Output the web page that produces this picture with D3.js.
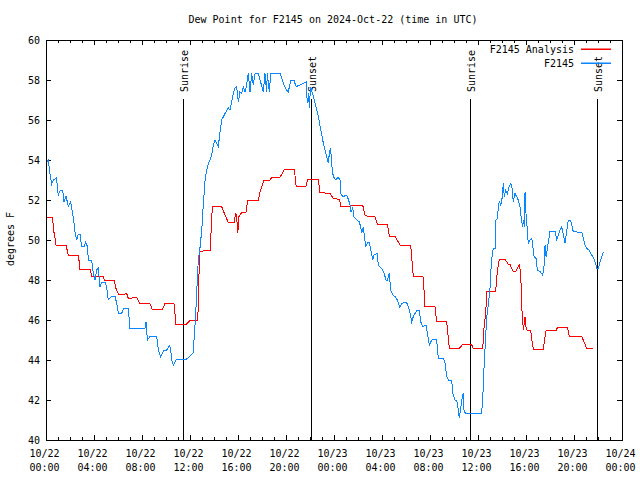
<!DOCTYPE html>
<html>
<head>
<meta charset="utf-8">
<script src="https://cdn.jsdelivr.net/npm/d3@7/dist/d3.min.js"></script>
<style>
  html, body { margin: 0; padding: 0; background: #fff; }
  svg { display: block; }
  text { font-family: "DejaVu Sans Mono", monospace; font-size: 10px; fill: #000; }
</style>
</head>
<body>
<svg id="chart" width="640" height="480"></svg>
<script>
// ---- data (hours since 2024-10-22 00:00 UTC, dew point in °F) ----
const obsHours = [0.0,0.19,0.33,0.47,0.61,0.88,1.02,1.22,1.39,1.5,1.67,1.86,2.05,2.14,2.28,2.42,2.56,2.7,2.83,2.97,3.17,3.31,3.45,3.53,3.8,3.94,4.08,4.22,4.36,4.5,4.63,4.91,5.05,5.19,5.48,5.75,5.89,6.03,6.31,6.45,6.86,7.0,8.25,8.34,8.45,8.66,9.23,9.37,9.55,9.83,10.06,10.28,10.38,10.47,10.61,10.89,11.72,12.0,12.26,12.45,12.69,12.83,12.98,13.11,13.26,13.39,13.53,13.67,13.81,13.95,14.09,14.22,14.36,14.5,14.64,14.92,15.19,15.33,15.47,15.61,15.75,15.89,16.03,16.16,16.3,16.44,16.58,16.72,16.86,17.0,17.14,17.28,17.42,17.7,17.84,18.11,18.25,18.39,18.44,18.61,18.73,19.5,19.78,20.05,20.19,20.39,20.67,20.84,21.17,21.45,21.67,21.78,21.89,21.94,22.05,22.28,22.42,22.56,22.7,22.84,22.97,23.11,23.25,23.39,23.53,23.62,23.72,23.8,23.94,24.08,24.22,24.36,24.5,24.59,24.77,25.06,25.2,25.34,25.42,25.56,25.66,25.89,26.11,26.22,26.31,26.45,26.53,26.66,26.8,26.94,27.06,27.23,27.34,27.61,27.69,27.97,28.17,28.34,28.45,28.61,28.72,28.89,29.09,29.28,29.5,29.66,29.83,30.06,30.28,30.47,30.61,30.75,30.95,31.11,31.22,31.39,31.53,31.67,31.78,31.95,32.14,32.27,32.55,32.69,33.12,33.25,33.39,33.53,33.81,33.89,34.08,34.22,34.36,34.44,34.58,34.72,34.78,34.84,34.98,36.3,36.39,36.5,36.58,36.73,36.87,37.01,37.08,37.19,37.28,37.42,37.5,37.61,37.7,37.78,37.89,37.98,38.05,38.11,38.19,38.3,38.45,38.59,38.73,38.81,38.94,39.08,39.22,39.36,39.5,39.64,39.73,39.78,39.87,39.92,40.0,40.11,40.19,40.33,40.48,40.56,40.67,40.84,40.95,41.17,41.39,41.5,41.59,41.67,41.78,41.87,42.0,42.42,42.56,42.7,42.83,42.97,43.11,43.25,43.39,43.53,43.72,43.94,44.65,44.78,44.92,45.06,45.25,45.48,45.66,45.83,45.89,46.03,46.17,46.31,46.45];
const obsDew = [53.8,54.0,53.3,52.8,53.0,53.1,52.25,52.5,52.5,51.9,52.2,51.67,51.9,51.6,51.1,50.4,50.0,50.3,50.3,49.67,49.67,49.9,49.67,49.0,49.0,48.33,48.0,48.5,48.6,47.67,47.9,47.9,47.67,47.0,47.2,47.2,46.83,46.33,46.33,46.57,46.57,45.58,45.58,45.9,45.0,45.17,45.17,44.5,44.17,44.5,44.5,44.7,44.6,44.0,43.73,44.05,44.05,44.2,44.35,46.0,49.0,49.6,50.5,51.8,53.0,53.5,53.83,54.0,54.25,54.75,55.0,54.83,54.67,55.4,56.0,56.33,56.6,56.5,56.9,57.33,57.6,57.67,56.9,57.4,57.33,57.67,57.4,57.75,58.33,57.4,58.33,57.75,58.33,58.33,58.0,57.4,58.33,57.4,58.33,57.4,58.33,58.33,57.83,57.5,57.4,57.97,57.97,57.67,57.75,57.83,57.9,56.83,57.33,56.6,57.67,57.17,56.83,56.5,56.17,55.67,55.33,54.83,54.5,54.17,53.83,54.4,54.58,53.83,53.17,53.05,53.05,53.13,53.0,52.25,52.17,52.25,52.03,51.75,51.4,51.6,51.17,51.0,50.9,50.67,50.33,50.67,50.17,49.67,49.9,49.9,49.5,49.0,49.25,49.33,48.75,48.58,48.33,48.0,48.0,48.33,47.5,47.25,47.17,47.0,46.63,46.83,46.87,46.87,46.5,45.92,46.17,46.33,46.5,46.5,45.92,45.67,45.7,45.75,45.33,44.75,45.0,45.03,45.03,44.08,44.08,43.83,43.17,43.0,43.0,42.33,42.0,42.0,41.5,41.08,41.67,42.25,42.33,41.42,41.33,41.33,42.0,43.58,44.5,46.17,46.83,47.67,48.5,49.33,49.58,49.58,51.0,51.08,51.67,51.92,51.75,51.92,52.42,52.83,52.17,52.5,52.33,52.67,52.83,52.75,51.92,52.33,52.17,52.0,51.67,50.92,50.67,51.0,50.67,52.42,51.33,50.5,49.83,50.0,50.08,49.75,49.17,49.08,48.5,48.42,48.25,48.67,49.75,49.17,49.58,49.92,50.42,50.42,50.0,50.25,50.5,50.67,50.25,49.83,50.42,51.0,51.0,50.42,50.37,50.08,49.75,49.58,49.5,49.25,49.08,48.75,48.58,48.58,48.92,49.17,49.42];

const anaHours = [0.0,0.56,0.61,0.75,0.84,1.67,1.86,2.7,2.83,3.67,3.8,4.77,4.86,5.69,5.83,6.03,6.58,6.72,6.86,7.55,7.83,8.66,8.86,9.69,9.92,10.66,10.83,11.72,12.0,12.65,12.8,13.26,13.67,13.72,13.86,14.64,14.92,15.19,15.67,15.81,15.89,15.98,16.08,16.16,16.3,16.67,16.81,17.7,17.84,18.16,18.67,18.81,19.5,19.87,20.7,20.84,21.67,21.81,22.7,22.83,23.66,23.94,24.45,24.56,25.34,25.48,26.39,26.58,26.72,27.41,27.61,28.45,28.61,29.09,29.5,30.39,30.61,31.44,31.58,32.41,32.55,33.39,33.61,34.44,34.72,35.47,35.61,36.39,36.5,36.64,36.73,37.47,37.56,37.64,37.78,38.25,38.39,38.53,38.67,38.81,38.94,39.16,39.28,39.44,39.56,39.64,39.73,39.78,39.87,39.92,40.0,40.11,40.39,40.53,40.61,41.45,41.59,41.67,42.51,42.62,43.45,43.62,44.64,44.83,45.06,45.61];
const anaDew = [51.13,51.13,50.58,50.08,49.73,49.73,49.25,49.25,48.55,48.55,48.2,48.2,48.0,48.0,47.58,47.3,47.3,47.33,47.08,47.13,46.83,46.83,46.53,46.53,46.83,46.83,45.8,45.8,45.97,46.0,49.42,49.47,49.47,50.0,51.67,51.67,51.25,50.88,50.88,51.33,51.17,50.33,51.17,51.25,51.37,51.4,52.0,52.0,52.42,53.0,53.0,53.13,53.13,53.53,53.53,52.7,52.7,53.03,53.03,52.37,52.33,52.08,52.03,51.7,51.7,51.75,51.75,51.25,51.2,51.17,50.8,50.8,50.2,50.17,49.75,49.75,48.17,48.15,46.67,46.67,45.92,45.9,44.58,44.58,44.77,44.77,44.57,44.55,45.58,46.33,47.42,47.45,48.08,48.58,49.03,49.03,48.92,48.78,48.78,48.58,48.42,48.42,48.58,48.75,48.33,46.67,45.92,45.5,45.92,46.17,45.67,45.47,45.47,44.83,44.55,44.55,45.17,45.47,45.47,45.63,45.63,45.17,45.17,44.92,44.58,44.58];

const sunHours = [11.44, 22.05, 35.36, 45.94];
const sunLabels = ["Sunrise", "Sunset", "Sunrise", "Sunset"];

const yTicks = [40,42,44,46,48,50,52,54,56,58,60];
const xMajorHours = [0,4,8,12,16,20,24,28,32,36,40,44,48];
const xMinorHours = d3.range(0, 49, 1);

const seriesNames = ["F2145 Analysis", "F2145"];
const seriesColors = ["#ff0000", "#0a86ff"];
const titleText = "Dew Point for F2145 on 2024-Oct-22 (time in UTC)";
const yLabel = "degrees F";

// ---- setup ----
const base = Date.UTC(2024, 9, 22, 0, 0, 0);
const toDate = h => new Date(base + h * 3600e3);

const L = 46, R = 622, T = 40, B = 440;
const svg = d3.select("#chart");

const x = d3.scaleUtc().domain([toDate(0), toDate(48)]).range([L, R]);
const y = d3.scaleLinear().domain([40, 60]).range([B, T]);

svg.append("defs").append("clipPath").attr("id", "plotclip")
  .append("rect").attr("x", L).attr("y", T).attr("width", R - L).attr("height", B - T);

// title
svg.append("text").attr("x", 333).attr("y", 23).attr("text-anchor", "middle").text(titleText);

// y label
svg.append("text").attr("transform", "translate(14,239) rotate(-90)")
  .attr("text-anchor", "middle").text(yLabel);

const fmtDay = d3.utcFormat("%m/%d"), fmtTime = d3.utcFormat("%H:%M");

// bottom axis (major)
const gxb = svg.append("g").attr("transform", `translate(0,${B})`)
  .call(d3.axisBottom(x).tickValues(xMajorHours.map(toDate)).tickSize(-5).tickPadding(0)
    .tickFormat(d => fmtDay(d) + "|" + fmtTime(d)));
gxb.select(".domain").remove();
gxb.selectAll(".tick text").each(function(d) {
  const parts = d3.select(this).text().split("|");
  const t = d3.select(this).text(null).attr("y", null).attr("dy", null);
  t.append("tspan").attr("x", -2).attr("y", 17).text(parts[0]);
  t.append("tspan").attr("x", -2).attr("y", 31).text(parts[1]);
});
gxb.attr("font-family", null).attr("font-size", null);
// bottom minor
const gxbm = svg.append("g").attr("transform", `translate(0,${B})`)
  .call(d3.axisBottom(x).tickValues(xMinorHours.map(toDate)).tickSize(-3).tickFormat(""));
gxbm.select(".domain").remove();
// top major + minor (mirrored)
const gxt = svg.append("g").attr("transform", `translate(0,${T})`)
  .call(d3.axisTop(x).tickValues(xMajorHours.map(toDate)).tickSize(-5).tickFormat(""));
gxt.select(".domain").remove();
const gxtm = svg.append("g").attr("transform", `translate(0,${T})`)
  .call(d3.axisTop(x).tickValues(xMinorHours.map(toDate)).tickSize(-3).tickFormat(""));
gxtm.select(".domain").remove();

// left axis
const gyl = svg.append("g").attr("transform", `translate(${L},0)`)
  .call(d3.axisLeft(y).tickValues(yTicks).tickSize(-5).tickPadding(6));
gyl.select(".domain").remove();
gyl.attr("font-family", null).attr("font-size", null);
// right axis (mirror)
const gyr = svg.append("g").attr("transform", `translate(${R},0)`)
  .call(d3.axisRight(y).tickValues(yTicks).tickSize(-5).tickFormat(""));
gyr.select(".domain").remove();

svg.selectAll(".tick line").attr("stroke", "#000").attr("shape-rendering", "crispEdges");

// sunrise / sunset lines
const sun = svg.append("g");
sunHours.forEach((h, i) => {
  const sx = Math.round(x(toDate(h))) + 0.5;
  sun.append("line").attr("x1", sx).attr("x2", sx).attr("y1", 99).attr("y2", B)
    .attr("stroke", "#000").attr("stroke-width", 1).attr("shape-rendering", "crispEdges");
  sun.append("text").attr("transform", `translate(${sx + 4.5},92) rotate(-90)`)
    .attr("text-anchor", "start").text(sunLabels[i]);
});

// series
const line = d3.line().x(d => x(toDate(d[0]))).y(d => y(d[1]));
const plot = svg.append("g").attr("clip-path", "url(#plotclip)");
plot.append("path").datum(anaHours.map((h, i) => [h, anaDew[i]]))
  .attr("d", line).attr("fill", "none").attr("stroke", seriesColors[0]).attr("stroke-width", 1)
  .attr("shape-rendering", "crispEdges");
plot.append("path").datum(obsHours.map((h, i) => [h, obsDew[i]]))
  .attr("d", line).attr("fill", "none").attr("stroke", seriesColors[1]).attr("stroke-width", 1)
  .attr("shape-rendering", "crispEdges");

// frame
svg.append("rect").attr("x", L + 0.5).attr("y", T + 0.5).attr("width", R - L).attr("height", B - T - 0.5)
  .attr("fill", "none").attr("stroke", "#000").attr("shape-rendering", "crispEdges");

// legend
const leg = svg.append("g");
seriesNames.forEach((name, i) => {
  const ly = 49 + i * 14;
  leg.append("text").attr("x", 574).attr("y", ly + 3.5).attr("text-anchor", "end").text(name);
  leg.append("rect").attr("x", 581).attr("y", ly - 0.5).attr("width", 30).attr("height", 1.5)
    .style("fill", seriesColors[i]).style("stroke", "none");
});
</script>
</body>
</html>
